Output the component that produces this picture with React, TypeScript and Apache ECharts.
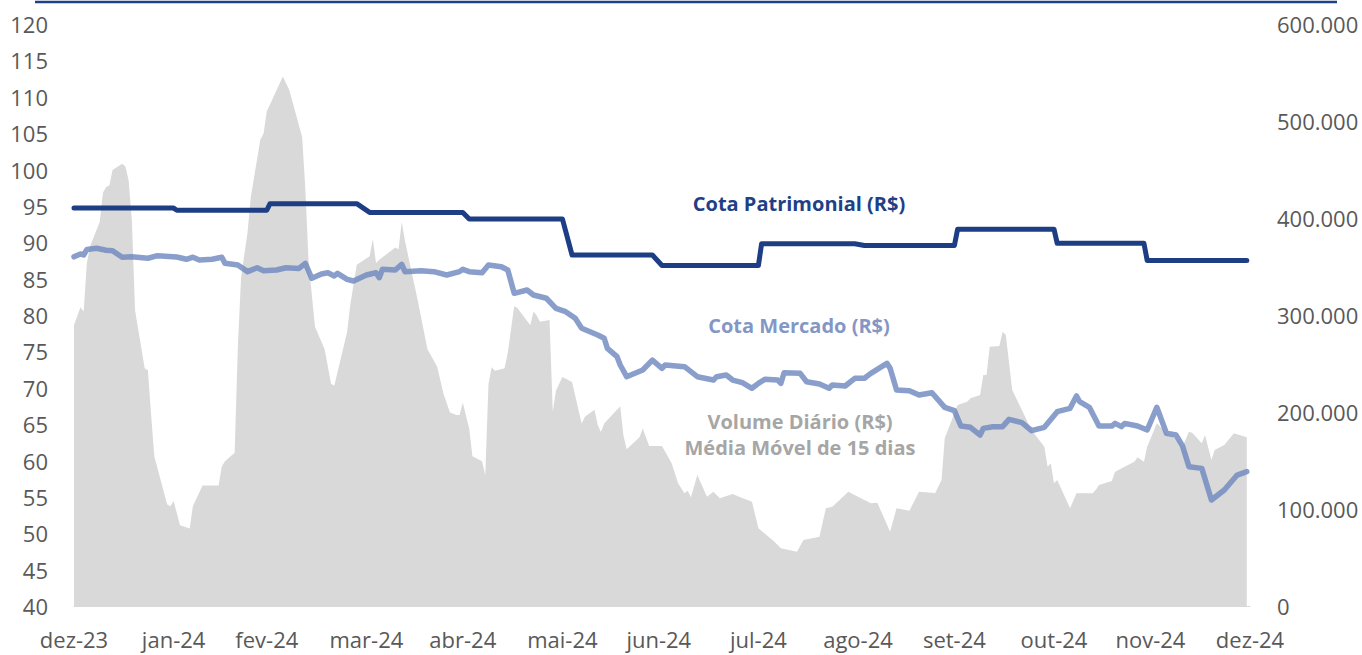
import React, { useEffect, useRef } from "react";
import * as echarts from "echarts";

// ---- axis / label definitions ----
const FIRST_DAY = [2023, 11, 31];
const LAST_DAY = [2024, 11, 31];
const MONTHS_PT = ["jan", "fev", "mar", "abr", "mai", "jun", "jul", "ago", "set", "out", "nov", "dez"];
const LEFT_MIN = 40;
const LEFT_MAX = 120;
const LEFT_STEP = 5;
const RIGHT_MIN = 0;
const RIGHT_MAX = 600000;
const RIGHT_STEP = 100000;

// ---- series: Cota Patrimonial (R$) ----
const cotaPatrimonial: [string, number][] = [
  ["2023-12-31", 94.7], ["2024-01-31", 94.7], ["2024-02-01", 94.4], ["2024-02-29", 94.4],
  ["2024-03-01", 95.3], ["2024-03-28", 95.3], ["2024-04-01", 94.1], ["2024-04-30", 94.1],
  ["2024-05-02", 93.2], ["2024-05-31", 93.2], ["2024-06-03", 88.25], ["2024-06-28", 88.25],
  ["2024-07-01", 86.8], ["2024-07-31", 86.8], ["2024-08-01", 89.8], ["2024-08-30", 89.8],
  ["2024-09-02", 89.55], ["2024-09-30", 89.55], ["2024-10-01", 91.8], ["2024-10-31", 91.8],
  ["2024-11-01", 89.85], ["2024-11-28", 89.85], ["2024-11-29", 87.5], ["2024-12-30", 87.5],
];

// ---- series: Cota Mercado (R$) ----
const cotaMercado: [string, number][] = [
  ["2023-12-31", 88.0], ["2024-01-02", 88.4], ["2024-01-03", 88.25], ["2024-01-04", 89.0],
  ["2024-01-07", 89.17], ["2024-01-10", 88.9], ["2024-01-12", 88.84], ["2024-01-15", 87.93],
  ["2024-01-18", 88.0], ["2024-01-23", 87.8], ["2024-01-26", 88.15], ["2024-02-01", 87.97],
  ["2024-02-04", 87.66], ["2024-02-06", 87.94], ["2024-02-08", 87.56], ["2024-02-12", 87.66],
  ["2024-02-15", 87.94], ["2024-02-16", 87.1], ["2024-02-20", 86.87], ["2024-02-23", 85.96],
  ["2024-02-26", 86.5], ["2024-02-28", 86.09], ["2024-03-03", 86.18], ["2024-03-06", 86.5],
  ["2024-03-10", 86.4], ["2024-03-12", 87.1], ["2024-03-14", 85.04], ["2024-03-17", 85.64],
  ["2024-03-19", 85.8], ["2024-03-21", 85.36], ["2024-03-22", 85.73], ["2024-03-25", 84.9],
  ["2024-03-27", 84.67], ["2024-03-31", 85.5], ["2024-04-03", 85.8], ["2024-04-04", 85.13],
  ["2024-04-05", 86.28], ["2024-04-09", 86.18], ["2024-04-11", 86.97], ["2024-04-12", 85.96],
  ["2024-04-17", 86.09], ["2024-04-21", 85.96], ["2024-04-25", 85.5], ["2024-04-29", 85.96],
  ["2024-04-30", 86.28], ["2024-05-02", 85.96], ["2024-05-06", 85.8], ["2024-05-08", 86.87],
  ["2024-05-12", 86.64], ["2024-05-14", 86.18], ["2024-05-16", 82.98], ["2024-05-20", 83.44],
  ["2024-05-22", 82.75], ["2024-05-26", 82.3], ["2024-05-29", 80.92], ["2024-06-01", 80.46],
  ["2024-06-04", 79.54], ["2024-06-06", 78.17], ["2024-06-11", 77.25], ["2024-06-13", 76.8],
  ["2024-06-14", 75.42], ["2024-06-17", 74.27], ["2024-06-18", 73.13], ["2024-06-20", 71.52],
  ["2024-06-25", 72.44], ["2024-06-28", 73.8], ["2024-07-01", 72.67], ["2024-07-02", 73.13],
  ["2024-07-08", 72.9], ["2024-07-12", 71.52], ["2024-07-17", 71.06], ["2024-07-18", 71.52],
  ["2024-07-21", 71.75], ["2024-07-23", 71.06], ["2024-07-26", 70.7], ["2024-07-29", 69.93],
  ["2024-07-31", 70.61], ["2024-08-02", 71.16], ["2024-08-06", 71.06], ["2024-08-07", 70.61],
  ["2024-08-08", 72.07], ["2024-08-13", 71.98], ["2024-08-15", 70.83], ["2024-08-19", 70.52],
  ["2024-08-22", 69.93], ["2024-08-23", 70.38], ["2024-08-27", 70.24], ["2024-08-30", 71.3],
  ["2024-09-02", 71.3], ["2024-09-04", 71.98], ["2024-09-09", 73.36], ["2024-09-10", 72.67],
  ["2024-09-12", 69.69], ["2024-09-16", 69.6], ["2024-09-19", 69.0], ["2024-09-23", 69.32],
  ["2024-09-27", 67.31], ["2024-09-30", 66.85], ["2024-10-02", 64.74], ["2024-10-05", 64.56],
  ["2024-10-08", 63.5], ["2024-10-09", 64.42], ["2024-10-12", 64.65], ["2024-10-15", 64.65],
  ["2024-10-17", 65.66], ["2024-10-21", 65.2], ["2024-10-24", 64.1], ["2024-10-28", 64.56],
  ["2024-11-01", 66.71], ["2024-11-05", 67.17], ["2024-11-07", 68.87], ["2024-11-08", 68.08],
  ["2024-11-11", 67.31], ["2024-11-14", 64.74], ["2024-11-18", 64.74], ["2024-11-19", 65.1],
  ["2024-11-21", 64.65], ["2024-11-22", 65.1], ["2024-11-26", 64.74], ["2024-11-29", 64.19],
  ["2024-12-02", 67.31], ["2024-12-05", 63.74], ["2024-12-08", 63.5], ["2024-12-10", 62.0],
  ["2024-12-12", 59.15], ["2024-12-16", 58.92], ["2024-12-19", 54.57], ["2024-12-23", 55.94],
  ["2024-12-27", 58.0], ["2024-12-30", 58.46],
];

// ---- series: Volume Diário (R$ mil) - Média Móvel de 15 dias ----
const volumeMil: [string, number][] = [
  ["2023-12-31", 289.5], ["2024-01-02", 308], ["2024-01-03", 303.7], ["2024-01-04", 353.3],
  ["2024-01-05", 371], ["2024-01-08", 396], ["2024-01-09", 426], ["2024-01-10", 432],
  ["2024-01-11", 433.5], ["2024-01-12", 449.5], ["2024-01-15", 456], ["2024-01-16", 453],
  ["2024-01-17", 439], ["2024-01-18", 398], ["2024-01-19", 305], ["2024-01-22", 245],
  ["2024-01-23", 243], ["2024-01-24", 197], ["2024-01-25", 154], ["2024-01-29", 104.6],
  ["2024-01-30", 102.9], ["2024-01-31", 108.2], ["2024-02-02", 83.3], ["2024-02-05", 79.8],
  ["2024-02-06", 102.9], ["2024-02-09", 124.2], ["2024-02-14", 124.2], ["2024-02-15", 143.7],
  ["2024-02-16", 149.1], ["2024-02-19", 157.9], ["2024-02-20", 268], ["2024-02-21", 339],
  ["2024-02-23", 385], ["2024-02-24", 421], ["2024-02-27", 481], ["2024-02-28", 487],
  ["2024-02-29", 510], ["2024-03-01", 517], ["2024-03-05", 546], ["2024-03-07", 532],
  ["2024-03-11", 483.5], ["2024-03-12", 430], ["2024-03-13", 355], ["2024-03-15", 288],
  ["2024-03-18", 264.6], ["2024-03-20", 229], ["2024-03-21", 227], ["2024-03-25", 282.4],
  ["2024-03-26", 310.8], ["2024-03-28", 351.7], ["2024-04-01", 360.6], ["2024-04-02", 378.3],
  ["2024-04-03", 353.5], ["2024-04-04", 357], ["2024-04-09", 369.5], ["2024-04-10", 367.7],
  ["2024-04-11", 396.2], ["2024-04-12", 376.6], ["2024-04-16", 314.7], ["2024-04-19", 264.6],
  ["2024-04-22", 246.8], ["2024-04-24", 218.9], ["2024-04-26", 199.4], ["2024-04-28", 196.9],
  ["2024-04-29", 197], ["2024-04-30", 209.5], ["2024-05-02", 182.9], ["2024-05-03", 154.4],
  ["2024-05-06", 149.1], ["2024-05-07", 134.8], ["2024-05-08", 229.1], ["2024-05-09", 246.2],
  ["2024-05-10", 242.6], ["2024-05-13", 245], ["2024-05-14", 261], ["2024-05-16", 309.1],
  ["2024-05-17", 307.3], ["2024-05-21", 289.5], ["2024-05-22", 303.7], ["2024-05-23", 299.5],
  ["2024-05-24", 293.1], ["2024-05-27", 294.8], ["2024-05-28", 200.6], ["2024-05-29", 221.9],
  ["2024-05-31", 236.2], ["2024-06-03", 230.8], ["2024-06-05", 202.4], ["2024-06-06", 188.2],
  ["2024-06-07", 195.2], ["2024-06-10", 202.4], ["2024-06-11", 186.4], ["2024-06-12", 179.3],
  ["2024-06-13", 188.2], ["2024-06-18", 206], ["2024-06-19", 175.8], ["2024-06-20", 161.5],
  ["2024-06-24", 174], ["2024-06-25", 182.9], ["2024-06-27", 165], ["2024-07-01", 164.9],
  ["2024-07-04", 147.1], ["2024-07-06", 126.5], ["2024-07-08", 116.2], ["2024-07-09", 118.9],
  ["2024-07-10", 112.1], ["2024-07-12", 135], ["2024-07-15", 112.7], ["2024-07-17", 117.8],
  ["2024-07-19", 111], ["2024-07-23", 115.5], ["2024-07-25", 112.7], ["2024-07-29", 107.5],
  ["2024-07-31", 80.1], ["2024-08-05", 66.3], ["2024-08-07", 59.5], ["2024-08-12", 56],
  ["2024-08-14", 68], ["2024-08-19", 71.4], ["2024-08-21", 100.7], ["2024-08-23", 102.4],
  ["2024-08-28", 117.8], ["2024-08-31", 112.7], ["2024-09-04", 105.9], ["2024-09-06", 106.5],
  ["2024-09-10", 76.6], ["2024-09-12", 100.7], ["2024-09-16", 98.2], ["2024-09-19", 117.8],
  ["2024-09-23", 116.8], ["2024-09-24", 116.2], ["2024-09-26", 129.9], ["2024-09-27", 172.9],
  ["2024-10-01", 207.2], ["2024-10-04", 210.6], ["2024-10-05", 214.1], ["2024-10-08", 217.5],
  ["2024-10-09", 238.1], ["2024-10-10", 238.1], ["2024-10-11", 267.3], ["2024-10-14", 268],
  ["2024-10-15", 282.8], ["2024-10-16", 279.4], ["2024-10-18", 222.7], ["2024-10-21", 202.1],
  ["2024-10-24", 181.4], ["2024-10-28", 164.2], ["2024-10-29", 143.6], ["2024-10-30", 147.1],
  ["2024-10-31", 126.5], ["2024-11-01", 129.9], ["2024-11-05", 100.7], ["2024-11-07", 116.2],
  ["2024-11-12", 116.2], ["2024-11-13", 119.6], ["2024-11-14", 124.7], ["2024-11-18", 128.9],
  ["2024-11-19", 138.4], ["2024-11-25", 148.8], ["2024-11-26", 153.3], ["2024-11-28", 148.8],
  ["2024-11-29", 164.2], ["2024-12-02", 188.3], ["2024-12-05", 178], ["2024-12-09", 170.4],
  ["2024-12-10", 164.2], ["2024-12-12", 179.7], ["2024-12-13", 178.6], ["2024-12-16", 167.7],
  ["2024-12-17", 176.3], ["2024-12-19", 150.5], ["2024-12-20", 160.8], ["2024-12-23", 166],
  ["2024-12-26", 178], ["2024-12-30", 173.9],
];

const LABEL_PATRIMONIAL = "Cota Patrimonial (R$)";
const LABEL_MERCADO = "Cota Mercado (R$)";
const LABEL_VOLUME_1 = "Volume Diário (R$)";
const LABEL_VOLUME_2 = "Média Móvel de 15 dias";

function buildDays(): string[] {
  const out: string[] = [];
  let t = Date.UTC(FIRST_DAY[0], FIRST_DAY[1], FIRST_DAY[2]);
  const end = Date.UTC(LAST_DAY[0], LAST_DAY[1], LAST_DAY[2]);
  while (t <= end) {
    out.push(new Date(t).toISOString().slice(0, 10));
    t += 86400000;
  }
  return out;
}

function isMonthEnd(iso: string): boolean {
  const d = new Date(iso + "T00:00:00Z");
  d.setUTCDate(d.getUTCDate() + 1);
  return d.getUTCDate() === 1;
}

function monthLabel(iso: string): string {
  const d = new Date(iso + "T00:00:00Z");
  return MONTHS_PT[d.getUTCMonth()] + "-" + String(d.getUTCFullYear()).slice(2);
}

function thousands(v: number): string {
  return String(Math.round(v)).replace(/\B(?=(\d{3})+(?!\d))/g, ".");
}

const FONT = '"Open Sans", "Noto Sans", sans-serif';
const AXIS_TEXT = "#595959";
const DARK_BLUE = "#1d3e84";
const LIGHT_BLUE = "#6f89bf";

export default function App() {
  const ref = useRef<HTMLDivElement>(null);

  useEffect(() => {
    if (!ref.current) return;
    const chart = echarts.init(ref.current, undefined, { renderer: "svg" });
    const days = buildDays();

    const option: any = {
      animation: false,
      backgroundColor: "#ffffff",
      textStyle: { fontFamily: FONT },
      grid: { left: 74, right: 112, top: 24, bottom: 49, containLabel: false },
      xAxis: {
        type: "category",
        data: days,
        boundaryGap: false,
        axisLine: { show: true, lineStyle: { color: "#d9d9d9", width: 1 } },
        axisTick: { show: false },
        splitLine: { show: false },
        axisLabel: {
          interval: (_i: number, v: string) => isMonthEnd(v),
          formatter: (v: string) => monthLabel(v),
          color: AXIS_TEXT,
          fontSize: 22,
          fontFamily: FONT,
          margin: 22,
          hideOverlap: false,
        },
      },
      yAxis: [
        {
          type: "value",
          min: LEFT_MIN,
          max: LEFT_MAX,
          interval: LEFT_STEP,
          position: "left",
          axisLine: { show: false },
          axisTick: { show: false },
          splitLine: { show: false },
          axisLabel: { color: AXIS_TEXT, fontSize: 22, fontFamily: FONT, margin: 26 },
        },
        {
          type: "value",
          min: RIGHT_MIN,
          max: RIGHT_MAX,
          interval: RIGHT_STEP,
          position: "right",
          axisLine: { show: false },
          axisTick: { show: false },
          splitLine: { show: false },
          axisLabel: {
            color: AXIS_TEXT,
            fontSize: 22,
            fontFamily: FONT,
            margin: 27,
            formatter: (v: number) => thousands(v),
          },
        },
      ],
      series: [
        {
          name: "Volume Diário (R$) - Média Móvel de 15 dias",
          type: "line",
          yAxisIndex: 1,
          data: volumeMil.map(([d, v]) => [d, v * 1000]),
          showSymbol: false,
          symbol: "none",
          lineStyle: { width: 0, color: "#d9d9d9" },
          itemStyle: { color: "#d9d9d9" },
          areaStyle: { color: "#d9d9d9", opacity: 1 },
          z: 1,
        },
        {
          name: LABEL_MERCADO,
          type: "line",
          yAxisIndex: 0,
          data: cotaMercado,
          showSymbol: false,
          symbol: "none",
          lineStyle: { width: 5.5, color: LIGHT_BLUE, opacity: 0.82, cap: "round", join: "round" },
          itemStyle: { color: LIGHT_BLUE },
          z: 2,
        },
        {
          name: LABEL_PATRIMONIAL,
          type: "line",
          yAxisIndex: 0,
          data: cotaPatrimonial,
          showSymbol: false,
          symbol: "none",
          lineStyle: { width: 5, color: DARK_BLUE, cap: "round", join: "round" },
          itemStyle: { color: DARK_BLUE },
          z: 3,
        },
      ],
      graphic: [
        {
          type: "line",
          shape: { x1: 35, y1: 2, x2: 1337, y2: 2 },
          style: { stroke: "#1f3f86", lineWidth: 2.5 },
          z: 10,
        },
        {
          type: "text",
          x: 799,
          y: 203,
          style: {
            text: LABEL_PATRIMONIAL,
            fill: "#1f3f86",
            font: `bold 20px ${FONT}`,
            align: "center",
            verticalAlign: "middle",
          },
          z: 10,
        },
        {
          type: "text",
          x: 799,
          y: 325,
          style: {
            text: LABEL_MERCADO,
            fill: "#8497c4",
            font: `bold 20px ${FONT}`,
            align: "center",
            verticalAlign: "middle",
          },
          z: 10,
        },
        {
          type: "text",
          x: 800,
          y: 421,
          style: {
            text: LABEL_VOLUME_1,
            fill: "#a6a6a6",
            font: `bold 20px ${FONT}`,
            align: "center",
            verticalAlign: "middle",
          },
          z: 10,
        },
        {
          type: "text",
          x: 800,
          y: 447,
          style: {
            text: LABEL_VOLUME_2,
            fill: "#a6a6a6",
            font: `bold 20px ${FONT}`,
            align: "center",
            verticalAlign: "middle",
          },
          z: 10,
        },
      ],
    };

    chart.setOption(option);
    return () => chart.dispose();
  }, []);

  return (
    <div
      ref={ref}
      style={{ position: "fixed", left: 0, top: 0, width: 1362, height: 655, background: "#fff" }}
    />
  );
}
